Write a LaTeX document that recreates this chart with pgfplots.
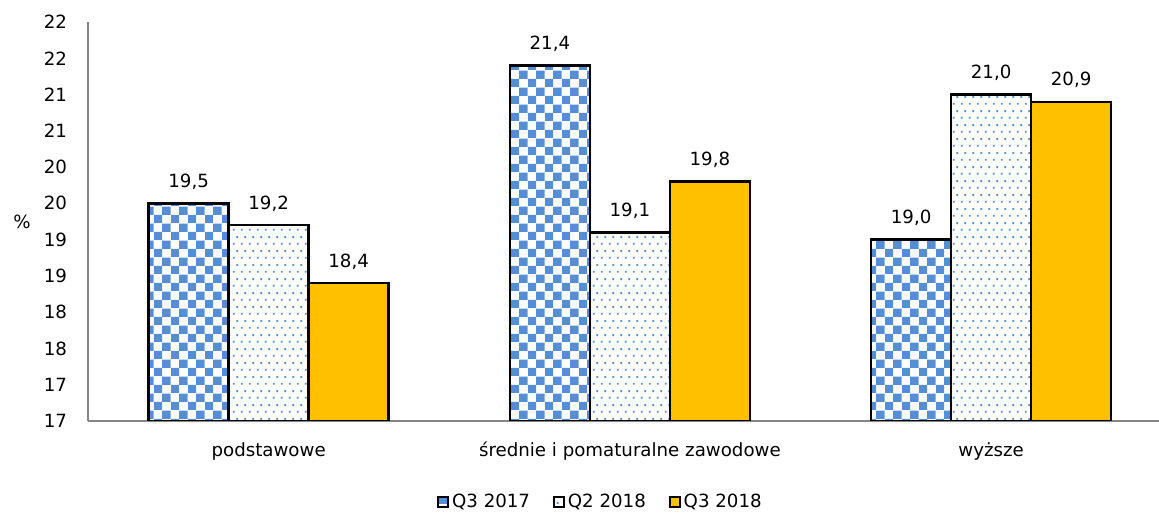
\documentclass[border=0pt]{standalone}
\usepackage{pgfplots}
\pgfplotsset{compat=1.18}
\usepackage{fontspec}
\setmainfont{DejaVu Sans}
\usetikzlibrary{patterns.meta,calc}
\definecolor{myblue}{RGB}{85,142,213}
\definecolor{myorange}{RGB}{255,192,0}
\definecolor{axgray}{RGB}{134,134,134}
\tikzdeclarepattern{
  name=bluecheck,
  type=colored,
  bottom left={(0bp,0bp)},
  top right={(8.6bp,8.6bp)},
  tile size={(8.6bp,8.6bp)},
  code={
    \fill[white] (0bp,0bp) rectangle (8.6bp,8.6bp);
    \fill[myblue] (0bp,0bp) rectangle (4.3bp,4.3bp);
    \fill[myblue] (4.3bp,4.3bp) rectangle (8.6bp,8.6bp);
  }
}
\tikzdeclarepattern{
  name=bluedots,
  type=colored,
  bottom left={(0bp,0bp)},
  top right={(4bp,7bp)},
  tile size={(4bp,7bp)},
  code={
    \fill[white] (0bp,0bp) rectangle (4bp,7bp);
    \fill[myblue] (0.5bp,1.25bp) rectangle (1.5bp,2.25bp);
    \fill[myblue] (2.5bp,4.75bp) rectangle (3.5bp,5.75bp);
  }
}
\begin{document}
\begin{tikzpicture}[font=\fontsize{9.1bp}{11bp}\selectfont]
\begin{axis}[
  name=ax,
  scale only axis,
  width=535.5bp, height=199.5bp,
  ybar=0pt, bar width=40bp,
  xmin=-0.5, xmax=2.4647,
  ymin=16.5, ymax=22,
  xtick={0,1,2},
  xticklabels={podstawowe, średnie i pomaturalne zawodowe, wyższe},
  ytick={16.5,17,17.5,18,18.5,19,19.5,20,20.5,21,21.5,22},
  yticklabels={17,17,18,18,19,19,20,20,21,21,22,22},
  major tick length=0pt,
  axis x line=bottom, axis y line=left,
  axis line style={-, axgray, line width=0.9bp},
  /pgf/number format/assume math mode=true,
  yticklabel style={anchor=east, xshift=-7bp},
  xticklabel style={anchor=base, yshift=-18bp},
  ylabel={\%},
  ylabel style={at={(axis description cs:-0.0616,0.5)}, rotate=-90, anchor=center},
  nodes near coords={\pgfmathprintnumber[use comma,fixed,fixed zerofill,precision=1,assume math mode=true]{\pgfplotspointmeta}},
  every node near coord/.append style={anchor=base, yshift=8bp, text=black},
  legend style={at={(axis description cs:0.479,-0.203)}, anchor=center, draw=none,
    legend columns=3, /tikz/every even column/.append style={column sep=10bp},
    nodes={inner sep=1.5bp}},
  legend image code/.code={\draw[#1, line width=0.9bp] (0bp,-2.5bp) rectangle (5bp,2.5bp);},
]
\addplot[draw=black, line width=1.2bp, pattern=bluecheck] coordinates {(0,19.5) (1,21.4) (2,19.0)};
\addplot[draw=black, line width=1.2bp, pattern=bluedots] coordinates {(0,19.2) (1,19.1) (2,21.0)};
\addplot[draw=black, line width=1.2bp, fill=myorange] coordinates {(0,18.4) (1,19.8) (2,20.9)};
\legend{Q3 2017, Q2 2018, Q3 2018}
\end{axis}
\pgfresetboundingbox
\useasboundingbox ($(ax.south west)+(-44bp,-46bp)$) rectangle ($(ax.north east)+(0bp,11bp)$);
\end{tikzpicture}
\end{document}
